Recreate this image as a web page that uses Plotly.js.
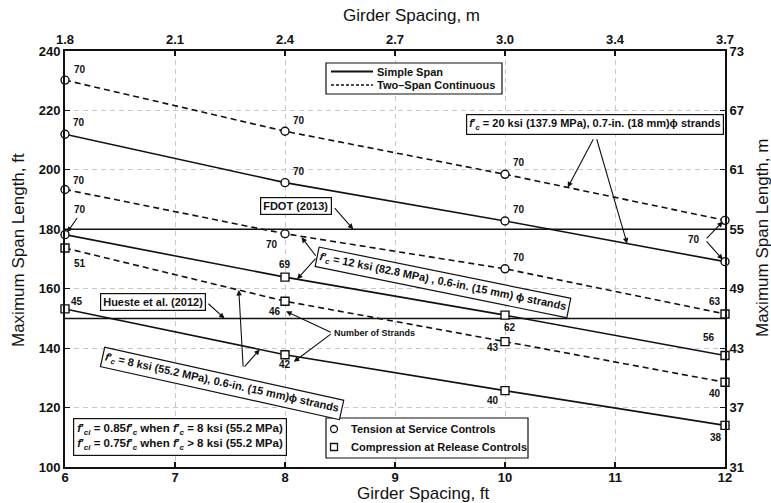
<!DOCTYPE html>
<html>
<head>
<meta charset="utf-8">
<script src="https://cdn.plot.ly/plotly-3.0.1.min.js"></script>
<style>html,body{margin:0;padding:0;background:#fff;}#chart{width:771px;height:503px;}</style>
</head>
<body>
<div id="chart"></div>
<script>
// ---- data ----
const spacingFt = [6, 8, 10, 12];
const simple20 = [212.0, 195.7, 182.8, 169.1];
const cont20   = [230.2, 213.0, 198.5, 183.0];
const simple12 = [178.2, 163.9, 151.1, 137.5];
const cont12   = [193.4, 178.5, 166.7, 151.5];
const simple8  = [153.2, 137.8, 125.7, 114.0];
const cont8    = [173.7, 155.8, 142.2, 128.5];

// number of strands
const strands20s = ['70', '70', '70', ''];
const strands20c = ['70', '70', '70', ''];
const strands12s = ['', '69', '62', '56'];
const strands12c = ['70', '70', '70', '63'];
const strands8s  = ['45', '42', '40', '38'];
const strands8c  = ['51', '46', '43', '40'];

// controlling criterion: T = tension at service, C = compression at release
const control20s = ['T', 'T', 'T', 'T'];
const control20c = ['T', 'T', 'T', 'T'];
const control12s = ['T', 'C', 'C', 'C'];
const control12c = ['T', 'T', 'T', 'C'];
const control8s  = ['C', 'C', 'C', 'C'];
const control8c  = ['C', 'C', 'C', 'C'];

const fdotLimit = 180;
const huesteLimit = 150;

const xTicksFt = [6, 7, 8, 9, 10, 11, 12];
const xTickLabelsM = ['1.8', '2.1', '2.4', '2.7', '3.0', '3.4', '3.7'];
const yTicksFt = [100, 120, 140, 160, 180, 200, 220, 240];
const yTickLabelsM = ['31', '37', '43', '49', '55', '61', '67', '73'];

// ---- styling ----
const FONT = 'Liberation Sans, Arial, sans-serif';
const DASH = '6px,4px';
const INK = '#111';
const symbolOf = c => (c === 'T' ? 'circle' : 'square');

// plot box in pixels (for paper-coordinate helpers)
const L = 65, R = 725, T = 51, B = 467;
const px = p => (p - L) / (R - L);
const py = p => (B - p) / (B - T);

function seriesTrace(y, ctrl, dashed) {
  return {
    x: spacingFt, y: y, mode: 'lines+markers', showlegend: false, hoverinfo: 'skip', cliponaxis: false,
    line: {color: INK, width: 1.6, dash: dashed ? DASH : 'solid'},
    marker: {symbol: ctrl.map(symbolOf), size: 8, color: '#fff', line: {color: INK, width: 1.4}}
  };
}

const traces = [
  {x: [6, 12], y: [fdotLimit, fdotLimit], mode: 'lines', line: {color: INK, width: 1.6}, showlegend: false, hoverinfo: 'skip'},
  {x: [6, 12], y: [huesteLimit, huesteLimit], mode: 'lines', line: {color: INK, width: 1.6}, showlegend: false, hoverinfo: 'skip'},
  seriesTrace(simple20, control20s, false),
  seriesTrace(cont20, control20c, true),
  seriesTrace(simple12, control12s, false),
  seriesTrace(cont12, control12c, true),
  seriesTrace(simple8, control8s, false),
  seriesTrace(cont8, control8c, true),
  // anchor trace for secondary (metric) axes
  {x: [6, 12], y: [100, 240], mode: 'markers', marker: {opacity: 0}, xaxis: 'x2', yaxis: 'y2', showlegend: false, hoverinfo: 'skip'}
];

// strand labels: pixel offsets [dx, dy] (dy positive = downward)
const labelFont = {family: FONT, size: 10, color: INK, weight: 'bold'};
const annotations = [];
const shapes = [];
function addLabels(y, labels, offsets) {
  labels.forEach((t, i) => {
    if (!t) return;
    annotations.push({x: spacingFt[i], y: y[i], xref: 'x', yref: 'y', xanchor: 'center', yanchor: 'middle', text: t, showarrow: false,
      xshift: offsets[i][0], yshift: -offsets[i][1], font: labelFont});
  });
}
addLabels(cont20, strands20c, [[15, -11], [14, -11], [14, -12], [0, 0]]);
addLabels(simple20, strands20s, [[14, -12], [14, -11], [14, -11], [0, 0]]);
addLabels(cont12, strands12c, [[14, -9], [-13, 11], [14, -11], [-10, -12]]);
addLabels(simple12, strands12s, [[0, 0], [0, -13], [5, 12], [-16, -18]]);
addLabels(cont8, strands8c, [[15, 15], [-10, 10], [-12, 6], [-10, 11]]);
addLabels(simple8, strands8s, [[12, -7], [0, 10], [-12, 10], [-9, 12]]);

function arrow(x0, y0, x1, y1) {
  annotations.push({x: x1, y: y1, ax: x0, ay: y0, xref: 'x', yref: 'y', axref: 'x', ayref: 'y',
    text: '', showarrow: true, arrowhead: 2, arrowsize: 1, arrowwidth: 1.1, arrowcolor: INK, standoff: 0});
}
function lineAt(series, x) {
  for (let i = 0; i < spacingFt.length - 1; i++) {
    if (x >= spacingFt[i] && x <= spacingFt[i + 1]) {
      const t = (x - spacingFt[i]) / (spacingFt[i + 1] - spacingFt[i]);
      return series[i] + t * (series[i + 1] - series[i]);
    }
  }
  return series[series.length - 1];
}

const boxFont = {family: FONT, size: 11, color: INK, weight: 'bold'};
const fc = '<i>f</i>\u2032<sub><i>c</i></sub>';
const fci = '<i>f</i>\u2032<sub><i>ci</i></sub>';
const boxed = {showarrow: false, bordercolor: INK, borderwidth: 1.2, borderpad: 2, bgcolor: '#fff', font: boxFont,
  xref: 'x', yref: 'y', xanchor: 'center', yanchor: 'middle'};

// 20 ksi box
annotations.push(Object.assign({}, boxed, {x: 10.82, y: 215.1,
  text: fc + ' = 20 ksi (137.9 MPa), 0.7-in. (18 mm)\u03D5 strands'}));
arrow(10.81, 210.8, 10.57, lineAt(cont20, 10.57));
arrow(10.83, 210.8, 11.11, lineAt(simple20, 11.11));
// shared 70 label at 12 ft
annotations.push({x: 11.72, y: 176.6, xref: 'x', yref: 'y', xanchor: 'center', yanchor: 'middle', text: '70', showarrow: false, font: labelFont});
arrow(11.82, 176.4, 11.98, 182.6);
arrow(11.82, 176.4, 11.98, 169.8);
// FDOT
annotations.push(Object.assign({}, boxed, {x: 8.1, y: 187.9, text: 'FDOT (2013)'}));
arrow(8.44, 187.6, 8.62, fdotLimit);
// Hueste
annotations.push(Object.assign({}, boxed, {x: 6.8, y: 155.6, text: 'Hueste et al. (2012)'}));
arrow(7.29, 155.4, 7.45, huesteLimit);
// 70 at 6 ft on 12 ksi simple span
annotations.push({x: 6.14, y: 186.6, xref: 'x', yref: 'y', xanchor: 'center', yanchor: 'middle', text: '70', showarrow: false, font: labelFont});
arrow(6.12, 184.3, 6.02, simple12[0] + 0.8);
// 12 ksi box (rotated)
annotations.push(Object.assign({}, boxed, {x: 9.44, y: 162.2, textangle: 11.5,
  text: fc + ' = 12 ksi (82.8 MPa) , 0.6-in. (15 mm) \u03D5 strands'}));
arrow(8.29, 170.6, 8.15, lineAt(cont12, 8.15) - 0.3);
arrow(8.29, 170.6, 8.11, lineAt(simple12, 8.11));
// 8 ksi box (rotated)
annotations.push(Object.assign({}, boxed, {x: 7.43, y: 128.0, textangle: 12.5,
  text: fc + ' = 8 ksi (55.2 MPa), 0.6-in. (15 mm)\u03D5 strands'}));
arrow(7.62, 133.3, 7.58, lineAt(cont8, 7.58));
arrow(7.62, 133.3, 7.77, lineAt(simple8, 7.77));
// Number of strands
annotations.push({x: 8.43, y: 145.1, xref: 'x', yref: 'y', xanchor: 'left', yanchor: 'middle', text: 'Number of Strands', showarrow: false,
  font: {family: FONT, size: 9, color: INK, weight: 'bold'}});
arrow(8.43, 145.1, 8.01, 152.4);
arrow(8.43, 145.1, 8.08, 135.4);
// f'ci note box
annotations.push({x: px(73), y: py(418), xref: 'paper', yref: 'paper', xanchor: 'left', yanchor: 'top', align: 'left', showarrow: false,
  bordercolor: INK, borderwidth: 1.2, borderpad: 3, bgcolor: '#fff', font: {family: FONT, size: 11.5, color: INK, weight: 'bold'},
  text: fci + ' = 0.85' + fc + ' when ' + fc + ' = 8 ksi (55.2 MPa)<br>' + fci + ' = 0.75' + fc + ' when ' + fc + ' &gt; 8 ksi (55.2 MPa)'});

// ---- hand-built legends ----
const legFont = {family: FONT, size: 11, color: INK, weight: 'bold'};
function legendText(xp, yp, text) {
  annotations.push({x: px(xp), y: py(yp), xref: 'paper', yref: 'paper', xanchor: 'left', yanchor: 'middle', showarrow: false, text: text, font: legFont});
}
function legendBox(x0, x1, y0, y1) {
  const p = `M${px(x0)},${py(y0)} L${px(x1)},${py(y0)} L${px(x1)},${py(y1)} L${px(x0)},${py(y1)} Z`;
  shapes.push({type: 'path', xref: 'paper', yref: 'paper', path: p, line: {color: INK, width: 1.2}, fillcolor: '#fff', layer: 'above'});
}
// line-style legend
legendBox(326, 502, 63, 94);
shapes.push({type: 'line', xref: 'paper', yref: 'paper', x0: px(331), x1: px(373), y0: py(71.5), y1: py(71.5), line: {color: INK, width: 2}, layer: 'above'});
shapes.push({type: 'line', xref: 'paper', yref: 'paper', x0: px(331), x1: px(373), y0: py(85), y1: py(85), line: {color: INK, width: 1.3, dash: '3px,2px'}, layer: 'above'});
legendText(375, 71.5, 'Simple Span');
legendText(375, 85, 'Two\u2013Span Continuous');
// marker legend
legendBox(326, 528, 418, 458);
shapes.push({type: 'circle', xref: 'paper', yref: 'paper', xsizemode: 'pixel', ysizemode: 'pixel', xanchor: px(334), yanchor: py(429),
  x0: -3.5, x1: 3.5, y0: -3.5, y1: 3.5, line: {color: INK, width: 1.3}, layer: 'above'});
shapes.push({type: 'rect', xref: 'paper', yref: 'paper', xsizemode: 'pixel', ysizemode: 'pixel', xanchor: px(334), yanchor: py(447),
  x0: -3.5, x1: 3.5, y0: -3.5, y1: 3.5, line: {color: INK, width: 1.3}, layer: 'above'});
legendText(349, 429, 'Tension at Service Controls');
legendText(349, 447, 'Compression at Release Controls');

// ---- axis titles ----
const titleFont = {family: FONT, size: 17, color: INK};
function title(xp, yp, text, angle) {
  annotations.push({x: px(xp), y: py(yp), xref: 'paper', yref: 'paper', xanchor: 'center', yanchor: 'middle',
    showarrow: false, text: text, textangle: angle || 0, font: titleFont});
}
title(423, 493, 'Girder Spacing, ft');
title(411, 15, 'Girder Spacing, m');
title(18, 250, 'Maximum Span Length, ft', -90);
title(763, 238, 'Maximum Span Length, m', -90);

const axisCommon = {
  showline: true, linecolor: INK, linewidth: 2, ticks: 'inside', ticklen: 5, tickwidth: 1.2, tickcolor: INK,
  zeroline: false, tickfont: {family: FONT, size: 13, color: INK, weight: 'bold'}
};

const layout = {
  width: 771, height: 503,
  margin: {l: L, r: 771 - R, t: T, b: 503 - B},
  paper_bgcolor: '#fff', plot_bgcolor: '#fff',
  font: {family: FONT, color: INK},
  showlegend: false,
  xaxis: Object.assign({}, axisCommon, {
    range: [6, 12], tickvals: xTicksFt, ticktext: xTicksFt.map(String), ticklabelstandoff: -3,
    showgrid: true, gridcolor: '#c8c8c8', griddash: '5px,4px', gridwidth: 1
  }),
  xaxis2: Object.assign({}, axisCommon, {
    range: [6, 12], overlaying: 'x', side: 'top', anchor: 'y', tickvals: xTicksFt, ticktext: xTickLabelsM, showgrid: false
  }),
  yaxis: Object.assign({}, axisCommon, {
    range: [100, 240], tickvals: yTicksFt, ticktext: yTicksFt.map(String),
    showgrid: true, gridcolor: '#c8c8c8', griddash: '5px,4px', gridwidth: 1
  }),
  yaxis2: Object.assign({}, axisCommon, {
    range: [100, 240], overlaying: 'y', side: 'right', anchor: 'x', tickvals: yTicksFt, ticktext: yTickLabelsM, showgrid: false
  }),
  shapes: shapes,
  annotations: annotations
};

Plotly.newPlot('chart', traces, layout, {staticPlot: true, displayModeBar: false});
</script>
</body>
</html>
